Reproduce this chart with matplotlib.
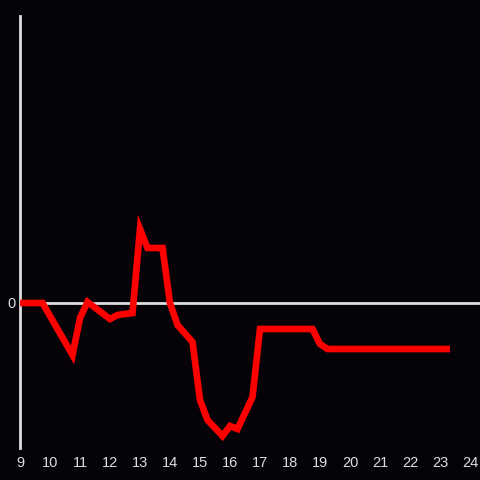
import matplotlib
matplotlib.use("Agg")
import matplotlib.pyplot as plt

x_vals = [9.0, 9.75, 10.75, 11.0, 11.25, 12.0, 12.25, 12.75, 13.0, 13.25, 13.75,
          14.0, 14.25, 14.75, 15.0, 15.25, 15.75, 16.0, 16.25, 16.75, 17.0,
          18.75, 19.0, 19.25, 23.33]
y_vals = [0, 0, -52, -15, 1, -16, -12, -10, 74, 55, 55,
          0, -22, -39, -97, -117, -133, -123, -126, -94, -26,
          -26, -41, -46, -46]
x_ticks = list(range(9, 25))
y_ticks = [0]

bg = '#050308'
fg = '#dddddd'

fig = plt.figure(figsize=(4.8, 4.8), dpi=100, facecolor=bg)
ax = fig.add_axes([20/480, 32/480, 460/480, 432/480], facecolor=bg)

ax.plot(x_vals, y_vals, color='#ff0000', lw=4.8, solid_joinstyle='miter',
        solid_capstyle='butt', zorder=3)
ax.axhline(0, color=fg, lw=2.0, zorder=2)

ax.set_xlim(9, 9 + 460/30)
ax.set_ylim(-145, 287)

for s in ['top', 'right', 'bottom']:
    ax.spines[s].set_visible(False)
ax.spines['left'].set_color(fg)
ax.spines['left'].set_linewidth(2.0)

ax.set_xticks(x_ticks)
ax.set_xticklabels([str(t) for t in x_ticks])
ax.set_yticks(y_ticks)
ax.set_yticklabels(['0'])
ax.tick_params(axis='both', length=0, colors=fg, labelsize=10.5, pad=6)
ax.tick_params(axis='y', pad=3)
for lab in ax.get_xticklabels() + ax.get_yticklabels():
    lab.set_family(['Liberation Sans', 'DejaVu Sans'])

fig.savefig('out.png', dpi=100, facecolor=bg)
